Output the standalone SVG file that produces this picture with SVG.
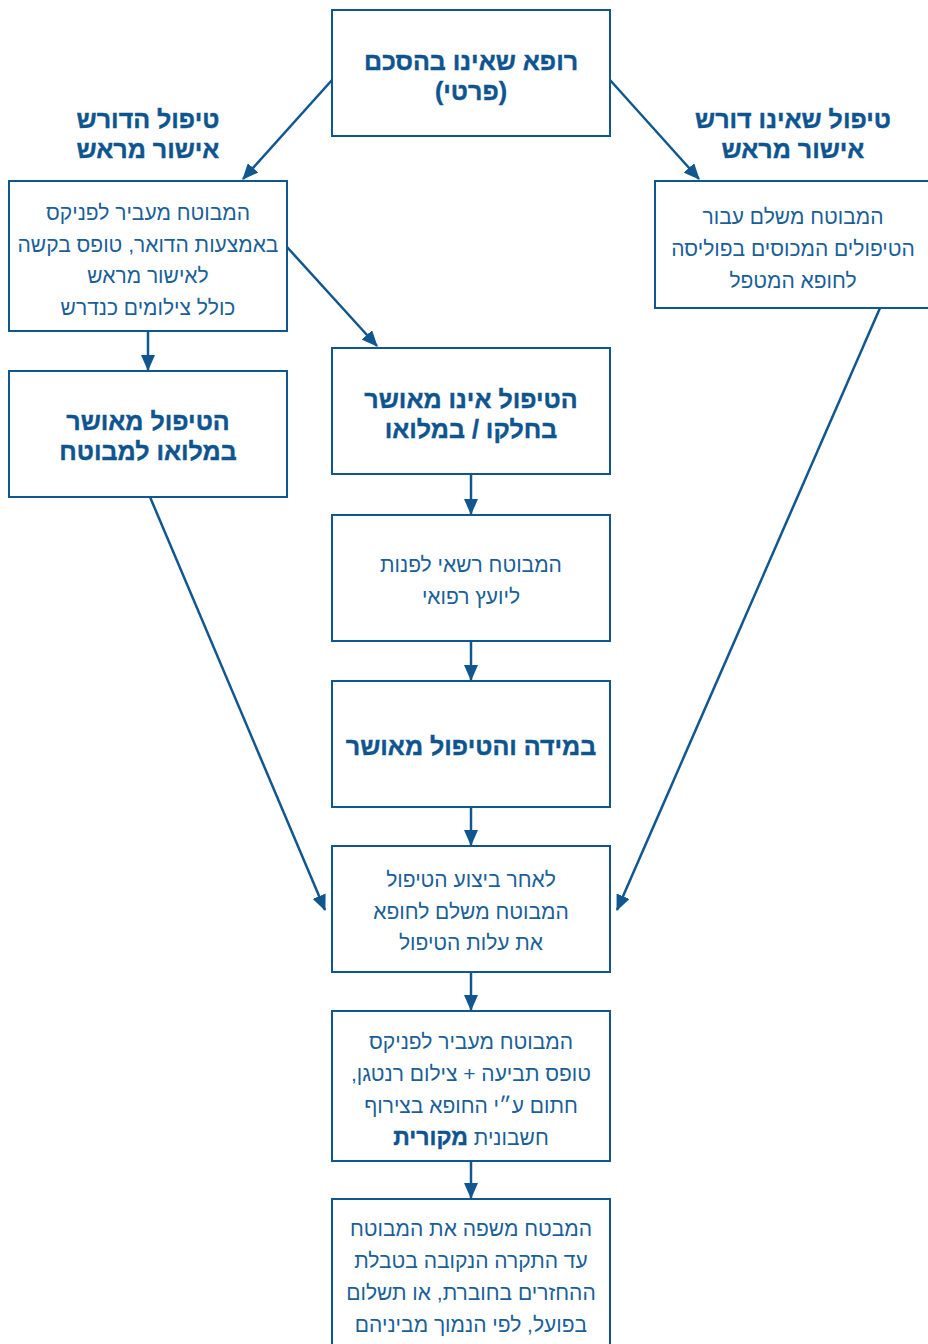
<svg xmlns="http://www.w3.org/2000/svg" width="928" height="1344" viewBox="0 0 928 1344">
<defs>
<marker id="ah" markerUnits="userSpaceOnUse" markerWidth="16" markerHeight="14" refX="15" refY="7" orient="auto">
<path d="M0,0 L16,7 L0,14 Z" fill="#11578f"/>
</marker>
<style>
.box{fill:#fff;stroke:#11578f;stroke-width:2}
.b{font-family:"Liberation Sans","DejaVu Sans",sans-serif;font-weight:bold;font-size:25px;fill:#0e5590;stroke:#0e5590;stroke-width:0.4;text-anchor:middle;direction:rtl}
.n{font-family:"Liberation Sans","DejaVu Sans",sans-serif;font-size:21px;fill:#1a5f98;text-anchor:middle;direction:rtl}
.c{stroke:#11578f;stroke-width:2.5;fill:none;marker-end:url(#ah)}
</style>
</defs>
<rect width="928" height="1344" fill="#fff"/>
<g id="connectors">
<line class="c" x1="332" y1="80" x2="243" y2="179"/>
<line class="c" x1="610" y1="80" x2="699" y2="179"/>
<line class="c" x1="287" y1="247" x2="377" y2="346"/>
<line class="c" x1="148" y1="331" x2="148" y2="370"/>
<line class="c" x1="150" y1="497" x2="325" y2="910"/>
<line class="c" x1="880" y1="308" x2="617" y2="910"/>
<line class="c" x1="471" y1="474" x2="471" y2="514"/>
<line class="c" x1="471" y1="641" x2="471" y2="680"/>
<line class="c" x1="471" y1="807" x2="471" y2="845"/>
<line class="c" x1="471" y1="972" x2="471" y2="1010"/>
<line class="c" x1="471" y1="1161" x2="471" y2="1198"/>
</g>
<g id="label-left">
<text class="b" x="148" y="128">טיפול הדורש</text>
<text class="b" x="148" y="158">אישור מראש</text>
</g>
<g id="label-right">
<text class="b" x="793" y="128">טיפול שאינו דורש</text>
<text class="b" x="793" y="158">אישור מראש</text>
</g>
<g id="n-top">
<rect class="box" x="332" y="10" width="278" height="126"/>
<text class="b" x="471" y="70">רופא שאינו בהסכם</text>
<text class="b" x="471" y="100">(פרטי)</text>
</g>
<g id="n-a">
<rect class="box" x="9" y="181" width="278" height="150"/>
<text class="n" x="148" y="220">המבוטח מעביר לפניקס</text>
<text class="n" x="148" y="252">באמצעות הדואר, טופס בקשה</text>
<text class="n" x="148" y="283">לאישור מראש</text>
<text class="n" x="148" y="315">כולל צילומים כנדרש</text>
</g>
<g id="n-b">
<rect class="box" x="655" y="181" width="275" height="127"/>
<text class="n" x="793" y="224">המבוטח משלם עבור</text>
<text class="n" x="793" y="256">הטיפולים המכוסים בפוליסה</text>
<text class="n" x="793" y="288">לחופא המטפל</text>
</g>
<g id="n-c">
<rect class="box" x="9" y="371" width="278" height="126"/>
<text class="b" x="148" y="430">הטיפול מאושר</text>
<text class="b" x="148" y="460">במלואו למבוטח</text>
</g>
<g id="n-d">
<rect class="box" x="332" y="348" width="278" height="126"/>
<text class="b" x="471" y="408">הטיפול אינו מאושר</text>
<text class="b" x="471" y="438">בחלקו / במלואו</text>
</g>
<g id="n-e">
<rect class="box" x="332" y="515" width="278" height="126"/>
<text class="n" x="471" y="572">המבוטח רשאי לפנות</text>
<text class="n" x="471" y="604">ליועץ רפואי</text>
</g>
<g id="n-f">
<rect class="box" x="332" y="681" width="278" height="126"/>
<text class="b" x="471" y="755">במידה והטיפול מאושר</text>
</g>
<g id="n-g">
<rect class="box" x="332" y="846" width="278" height="126"/>
<text class="n" x="471" y="887">לאחר ביצוע הטיפול</text>
<text class="n" x="471" y="919">המבוטח משלם לחופא</text>
<text class="n" x="471" y="950">את עלות הטיפול</text>
</g>
<g id="n-h">
<rect class="box" x="332" y="1011" width="278" height="150"/>
<text class="n" x="471" y="1049">המבוטח מעביר לפניקס</text>
<text class="n" x="471" y="1081">טופס תביעה + צילום רנטגן,</text>
<text class="n" x="471" y="1113">חתום ע״י החופא בצירוף</text>
<text class="n" x="471" y="1145">חשבונית <tspan font-weight="bold" font-size="23" fill="#0e5590" stroke="#0e5590" stroke-width="0.4">מקורית</tspan></text>
</g>
<g id="n-i">
<rect class="box" x="332" y="1199" width="278" height="160"/>
<text class="n" x="471" y="1236">המבטח משפה את המבוטח</text>
<text class="n" x="471" y="1268">עד התקרה הנקובה בטבלת</text>
<text class="n" x="471" y="1300">ההחזרים בחוברת, או תשלום</text>
<text class="n" x="471" y="1332">בפועל, לפי הנמוך מביניהם</text>
</g>
</svg>
